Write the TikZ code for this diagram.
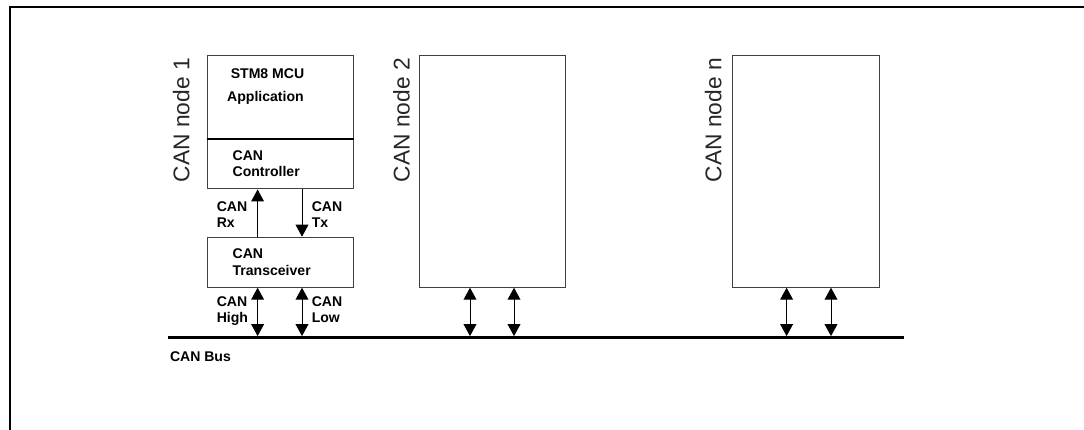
\documentclass[tikz,border=0pt]{standalone}
\usepackage{fontspec}
\setmainfont{Liberation Sans}
\usetikzlibrary{arrows.meta,positioning,calc}

\begin{document}
\begin{tikzpicture}[
  font=\fontsize{10}{11.6}\selectfont\bfseries,
  unit/.style={draw=black!75, line width=0.7pt, minimum width=3.67cm, inner sep=0pt},
  partbox/.style={unit, align=left, text width=2.39cm, inner xsep=0.64cm},
  lbl/.style={align=left, inner sep=0pt},
  nodelbl/.style={font=\fontsize{16.2}{19}\selectfont\mdseries, rotate=90, anchor=east, inner sep=0pt, text=black!85},
  divider/.style={line width=1.3pt},
  sig/.style={-{Triangle[length=0.3cm, width=0.32cm]}, line width=0.7pt},
  pin/.style={{Triangle[length=0.3cm, width=0.32cm]}-{Triangle[length=0.3cm, width=0.32cm]}, line width=0.7pt},
  busline/.style={fill=black, minimum width=18.4cm, minimum height=0.06cm, inner sep=0pt},
  frame/.style={line width=1.8pt}
]
\useasboundingbox (0,0) rectangle (27.1,10.75);

\coordinate (fbl) at (0.25,0);
\coordinate (ftl) at (0.25,10.58);
\coordinate (ftr) at (27.1,10.58);
\draw[frame] (fbl) -- (ftl) -- (ftr);

\node[unit, minimum height=2.08cm] (app) at (7.01,8.33) {};
\node[partbox, minimum height=1.27cm] (ctrl) at (7.01,6.66) {CAN\\Controller};
\node[partbox, minimum height=1.25cm] (trx) at (7.01,4.195) {CAN\\Transceiver};
\node[unit, minimum height=5.8cm] (nd2) at (12.31,6.47) {};
\node[unit, minimum height=5.8cm] (ndn) at (20.145,6.47) {};
\draw[divider] (app.south west) -- (app.south east);

\node[lbl, below right=0.335cm and 0.6cm of app.north west] (mcu) {STM8 MCU};
\node[lbl, below right=0.915cm and 0.51cm of app.north west] (appl) {Application};

\node[nodelbl] (lbl1) at (4.53,9.3) {CAN node 1};
\node[nodelbl] (lbl2) at (10.04,9.3) {CAN node 2};
\node[nodelbl] (lbln) at (17.83,9.3) {CAN node n};

\draw[sig] ([xshift=-0.57cm]trx.north) -- ([xshift=-0.57cm]ctrl.south);
\draw[sig] ([xshift=0.54cm]ctrl.south) -- ([xshift=0.54cm]trx.north);
\node[lbl, below right=0.295cm and 0.25cm of ctrl.south west] (rx) {CAN\\Rx};
\node[lbl, below right=0.295cm and 2.625cm of ctrl.south west] (tx) {CAN\\Tx};

\node[busline] (bus) at (13.4,2.31) {};
\node[lbl, below right=0.32cm and 0.05cm of bus.south west] (buslbl) {CAN Bus};

\foreach \n/\dx in {trx/-0.57, trx/0.54, nd2/-0.56, nd2/0.54, ndn/-0.48, ndn/0.63} {
  \path ($(\n.south)+(\dx,0)$) coordinate (p);
  \draw[pin] (p) -- (p |- bus.north);
}
\node[lbl, below right=0.22cm and 0.25cm of trx.south west] (high) {CAN\\High};
\node[lbl, below right=0.22cm and 2.625cm of trx.south west] (low) {CAN\\Low};
\end{tikzpicture}
\end{document}
